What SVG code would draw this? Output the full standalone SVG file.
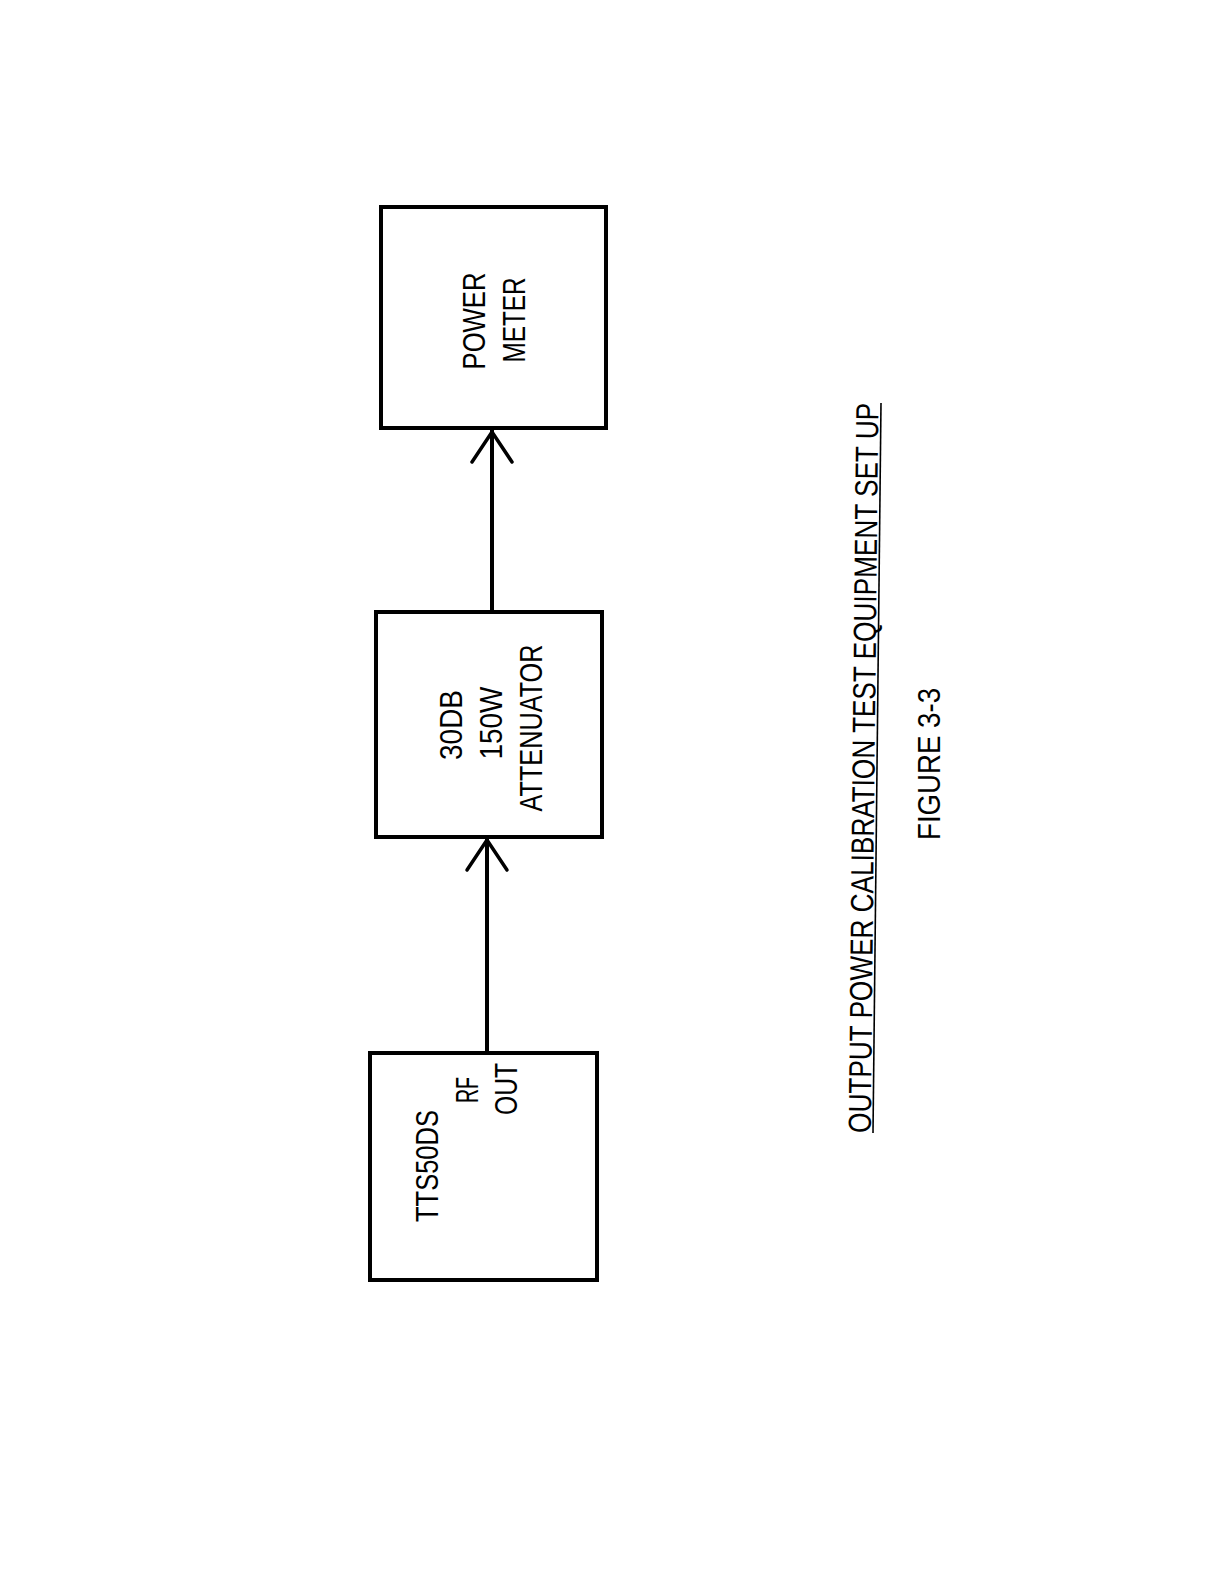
<svg xmlns="http://www.w3.org/2000/svg" width="1221" height="1584" viewBox="0 0 1221 1584">
<style>
.box{fill:#fff;stroke:#000;stroke-width:4}
.lbl{font-family:"Liberation Sans",Arial,sans-serif;font-size:32px;fill:#000;text-anchor:middle}
.wire{stroke:#000;stroke-width:4;fill:none}
.head{stroke:#000;stroke-width:3.5;fill:none;stroke-linecap:round;stroke-linejoin:round}
</style>
<rect width="1221" height="1584" fill="#fff"/>
<g id="power-meter">
<rect class="box" x="381" y="207" width="225" height="221"/>
<text class="lbl" transform="translate(485,321) rotate(-90)" textLength="97" lengthAdjust="spacingAndGlyphs">POWER</text>
<text class="lbl" transform="translate(525,320) rotate(-90)" textLength="85" lengthAdjust="spacingAndGlyphs">METER</text>
</g>
<g id="attenuator">
<rect class="box" x="376" y="612" width="226" height="225"/>
<text class="lbl" transform="translate(462,725) rotate(-90)" textLength="70" lengthAdjust="spacingAndGlyphs">30DB</text>
<text class="lbl" transform="translate(502,723) rotate(-90)" textLength="73" lengthAdjust="spacingAndGlyphs">150W</text>
<text class="lbl" transform="translate(542,728) rotate(-90)" textLength="167" lengthAdjust="spacingAndGlyphs">ATTENUATOR</text>
</g>
<g id="tts50ds">
<rect class="box" x="370" y="1053" width="227" height="227"/>
<text class="lbl" transform="translate(438,1166) rotate(-90)" textLength="112" lengthAdjust="spacingAndGlyphs">TTS50DS</text>
<text class="lbl" transform="translate(478,1090) rotate(-90)" textLength="26" lengthAdjust="spacingAndGlyphs">RF</text>
<text class="lbl" transform="translate(517,1089) rotate(-90)" textLength="52" lengthAdjust="spacingAndGlyphs">OUT</text>
</g>
<g id="connectors">
<line class="wire" x1="492" y1="612" x2="492" y2="430"/>
<polyline class="head" points="472,462 492,432 512,462"/>
<line class="wire" x1="487" y1="1053" x2="487" y2="839"/>
<polyline class="head" points="467,870 487,840 507,870"/>
</g>
<g id="caption">
<text class="lbl" transform="translate(874.5,768) rotate(-89.4)" textLength="730" lengthAdjust="spacingAndGlyphs">OUTPUT POWER CALIBRATION TEST EQUIPMENT SET UP</text>
<line x1="873" y1="1133" x2="881" y2="403" stroke="#000" stroke-width="1.6"/>
<text class="lbl" transform="translate(940,764) rotate(-90)" textLength="152" lengthAdjust="spacingAndGlyphs">FIGURE 3-3</text>
</g>
</svg>
